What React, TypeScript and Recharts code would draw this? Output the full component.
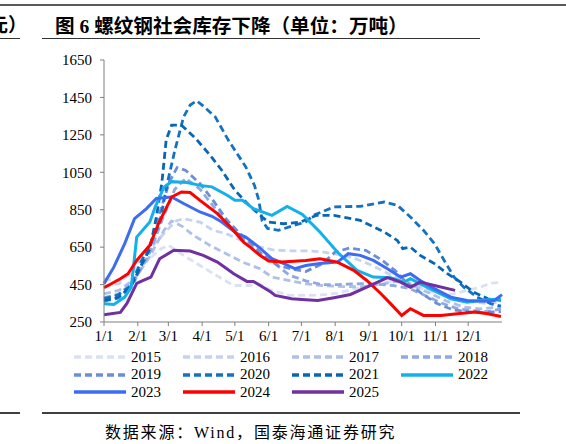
import { LineChart, Line, XAxis, YAxis } from "recharts";

// x = day of year (0 = 1/1), y = 万吨
const monthTicks = [0, 31, 59, 90, 120, 151, 181, 212, 243, 273, 304, 334];
const monthLabels = ["1/1", "2/1", "3/1", "4/1", "5/1", "6/1", "7/1", "8/1", "9/1", "10/1", "11/1", "12/1"];
const yTicks = [250, 450, 650, 850, 1050, 1250, 1450, 1650];

const s2015: [number, number][] = [
  [0, 480], [14, 470], [28, 520], [42, 590], [52, 640], [59, 660], [73, 606], [88, 552], [103, 499],
  [119, 445], [134, 445], [142, 455], [153, 420], [170, 392], [185, 392], [200, 395], [215, 405],
  [230, 428], [250, 450], [265, 470], [280, 450], [300, 410], [320, 400], [333, 418], [345, 436],
  [355, 458], [364, 462],
];
const s2016: [number, number][] = [
  [0, 440], [14, 455], [28, 540], [42, 640], [56, 730], [66, 790], [73, 802], [88, 784], [100, 740],
  [112, 722], [126, 686], [140, 655], [155, 635], [170, 630], [185, 630], [200, 625], [215, 610],
  [230, 590], [245, 555], [260, 510], [275, 470], [290, 440], [305, 410], [320, 380], [335, 360],
  [350, 350], [364, 355],
];
const s2017: [number, number][] = [
  [0, 400], [14, 420], [28, 480], [42, 600], [55, 740], [62, 790], [72, 760], [82, 713], [97, 660],
  [115, 606], [127, 570], [143, 535], [154, 490], [169, 472], [185, 454], [200, 445], [215, 440],
  [235, 438], [255, 452], [270, 470], [285, 440], [300, 400], [315, 360], [330, 330], [345, 320],
  [364, 330],
];
const s2018: [number, number][] = [
  [0, 380], [14, 400], [28, 470], [42, 620], [55, 820], [65, 960], [75, 1017], [88, 960], [100, 870],
  [112, 780], [125, 700], [140, 630], [155, 570], [170, 500], [185, 470], [200, 450], [215, 450],
  [235, 455], [250, 452], [265, 445], [280, 430], [295, 390], [310, 350], [325, 320], [340, 310],
  [352, 305], [364, 320],
];
const s2019: [number, number][] = [
  [0, 360], [14, 380], [28, 470], [42, 650], [52, 850], [60, 1000], [67, 1075], [75, 1060], [88, 990],
  [100, 900], [112, 800], [125, 720], [137, 660], [145, 610], [160, 550], [175, 530], [185, 520],
  [200, 560], [212, 624], [225, 645], [240, 633], [255, 580], [267, 525], [277, 463], [292, 400],
  [305, 350], [320, 315], [340, 300], [364, 305],
];
const s2020: [number, number][] = [
  [0, 375], [12, 392], [24, 440], [33, 560], [42, 660], [48, 740], [51, 776], [58, 990], [65, 1168],
  [73, 1346], [79, 1409], [85, 1432], [90, 1409], [102, 1346], [114, 1222], [130, 1079], [138, 980],
  [142, 900], [145, 790], [150, 750], [160, 740], [175, 767], [185, 785], [192, 820], [211, 865],
  [235, 868], [257, 891], [269, 874], [281, 811], [293, 740], [303, 669], [312, 579], [321, 490],
  [330, 436], [342, 383], [355, 347], [364, 335],
];
const s2021: [number, number][] = [
  [0, 365], [12, 378], [24, 430], [33, 540], [42, 640], [48, 811], [53, 990], [57, 1222], [62, 1302],
  [71, 1302], [84, 1231], [96, 1150], [108, 1061], [120, 954], [133, 874], [145, 811], [151, 784],
  [165, 775], [180, 784], [195, 820], [211, 820], [235, 793], [257, 731], [269, 686], [274, 642],
  [281, 650], [290, 606], [303, 562], [315, 508], [327, 463], [339, 410], [352, 374], [364, 365],
];
const s2022: [number, number][] = [
  [0, 347], [9, 344], [19, 383], [25, 436], [30, 704], [42, 784], [47, 865], [55, 970], [62, 1000],
  [76, 995], [88, 980], [99, 972], [113, 927], [120, 900], [127, 900], [137, 856], [154, 820],
  [168, 868], [182, 825], [198, 731], [214, 624], [232, 526], [247, 490], [263, 487], [275, 463],
  [281, 481], [296, 436], [318, 374], [333, 356], [354, 370], [364, 372],
];
const s2023: [number, number][] = [
  [0, 455], [9, 543], [19, 669], [28, 802], [39, 856], [48, 910], [62, 918], [73, 883], [88, 838],
  [99, 815], [108, 784], [122, 722], [130, 704], [142, 650], [154, 588], [165, 562], [175, 535],
  [185, 552], [198, 562], [214, 570], [224, 615], [235, 606], [247, 579], [260, 535], [272, 490],
  [281, 508], [290, 472], [303, 428], [318, 383], [333, 365], [349, 361], [358, 365], [365, 396],
];
const s2024: [number, number][] = [
  [0, 433], [15, 481], [22, 508], [30, 579], [42, 660], [50, 776], [62, 918], [71, 945], [79, 942],
  [88, 900], [104, 829], [116, 758], [128, 677], [134, 650], [143, 606], [151, 576], [163, 570],
  [185, 579], [198, 588], [214, 570], [229, 526], [241, 472], [254, 401], [263, 347], [273, 285],
  [281, 321], [293, 285], [309, 285], [324, 294], [340, 303], [352, 294], [364, 279],
];
const s2025: [number, number][] = [
  [0, 289], [15, 301], [21, 349], [30, 456], [36, 472], [43, 490], [51, 588], [64, 633], [79, 629],
  [91, 606], [104, 570], [119, 508], [131, 467], [137, 467], [153, 410], [157, 392], [172, 374],
  [185, 369], [196, 365], [211, 380], [226, 397], [241, 436], [260, 487], [272, 463], [281, 436],
  [290, 463], [303, 445], [322, 419],
];

const years = ["2015", "2016", "2017", "2018", "2019", "2020", "2021", "2022", "2023", "2024", "2025"];
const seriesData = [s2015, s2016, s2017, s2018, s2019, s2020, s2021, s2022, s2023, s2024, s2025];
const colors = [
  "#d9e1f2", "#c5d3ee", "#adc0e8", "#8eaadf", "#6a8ed8", "#1272c4", "#0866b6",
  "#14b0ea", "#3d6cf0", "#ff0000", "#7030a0",
];
const dashed = [true, true, true, true, true, true, true, false, false, false, false];

const serif = "'Liberation Serif', 'Noto Sans CJK SC', serif";
const DASH = "7 4";

function LegendItem({ i }: { i: number }) {
  const col = i % 4;
  const row = Math.floor(i / 4);
  const left = [73, 182, 291, 400][col];
  const top = [357, 374.5, 392][row];
  return (
    <div style={{ position: "absolute", left, top: top - 10, height: 20, display: "flex", alignItems: "center" }}>
      <svg width={54} height={20}>
        <line
          x1={1}
          y1={10}
          x2={53}
          y2={10}
          stroke={colors[i]}
          strokeWidth={3.5}
          strokeDasharray={dashed[i] ? DASH : undefined}
        />
      </svg>
      <span style={{ marginLeft: 4, fontSize: 15, fontFamily: serif, color: "#000" }}>{years[i]}</span>
    </div>
  );
}

export default function App() {
  return (
    <div
      style={{
        position: "absolute",
        left: 0,
        top: 0,
        width: 566,
        height: 444,
        background: "#fff",
        overflow: "hidden",
        fontFamily: serif,
      }}
    >
      <div style={{ position: "absolute", left: 0, top: 4, width: 566, height: 2, background: "#595959" }} />
      <div style={{ position: "absolute", left: -11, top: 10, fontSize: 19, fontWeight: 700, color: "#000" }}>元）</div>
      <div style={{ position: "absolute", left: 0, top: 38, width: 20, height: 1, background: "#333" }} />
      <div
        style={{ position: "absolute", left: 55, top: 10, fontSize: 19.6, fontWeight: 700, color: "#000", whiteSpace: "nowrap" }}
      >
        图 6 螺纹钢社会库存下降（单位：万吨）
      </div>
      <div style={{ position: "absolute", left: 42, top: 38, width: 438, height: 1, background: "#333" }} />

      <LineChart width={566} height={444} margin={{ top: 60, right: 64, bottom: 92, left: 44 }}>
        <XAxis
          dataKey="d"
          type="number"
          domain={[0, 365]}
          ticks={monthTicks}
          interval={0}
          tickFormatter={(v: number) => monthLabels[monthTicks.indexOf(v)]}
          stroke="#7f7f7f"
          tickSize={4}
          tickMargin={4}
          height={30}
          tick={{ fill: "#000", fontSize: 15, fontFamily: serif }}
        />
        <YAxis
          type="number"
          domain={[250, 1650]}
          ticks={yTicks}
          interval={0}
          width={60}
          stroke="#7f7f7f"
          tickSize={4}
          tickMargin={8}
          tick={{ fill: "#000", fontSize: 15, fontFamily: serif }}
        />
        {seriesData.map((s, i) => (
          <Line
            key={years[i]}
            data={s.map(([d, v]) => ({ d, v }))}
            dataKey="v"
            type="linear"
            stroke={colors[i]}
            strokeWidth={dashed[i] ? 2.8 : 3}
            strokeDasharray={dashed[i] ? DASH : undefined}
            dot={false}
            isAnimationActive={false}
          />
        ))}
      </LineChart>

      {years.map((_, i) => (
        <LegendItem key={i} i={i} />
      ))}

      <div style={{ position: "absolute", left: 0, top: 412, width: 20, height: 1.5, background: "#404040" }} />
      <div style={{ position: "absolute", left: 42, top: 412, width: 478, height: 1.5, background: "#404040" }} />
      <div
        style={{ position: "absolute", left: 105, top: 419, fontSize: 16, letterSpacing: 1.8, color: "#000", whiteSpace: "nowrap" }}
      >
        数据来源：Wind，国泰海通证券研究
      </div>
    </div>
  );
}
